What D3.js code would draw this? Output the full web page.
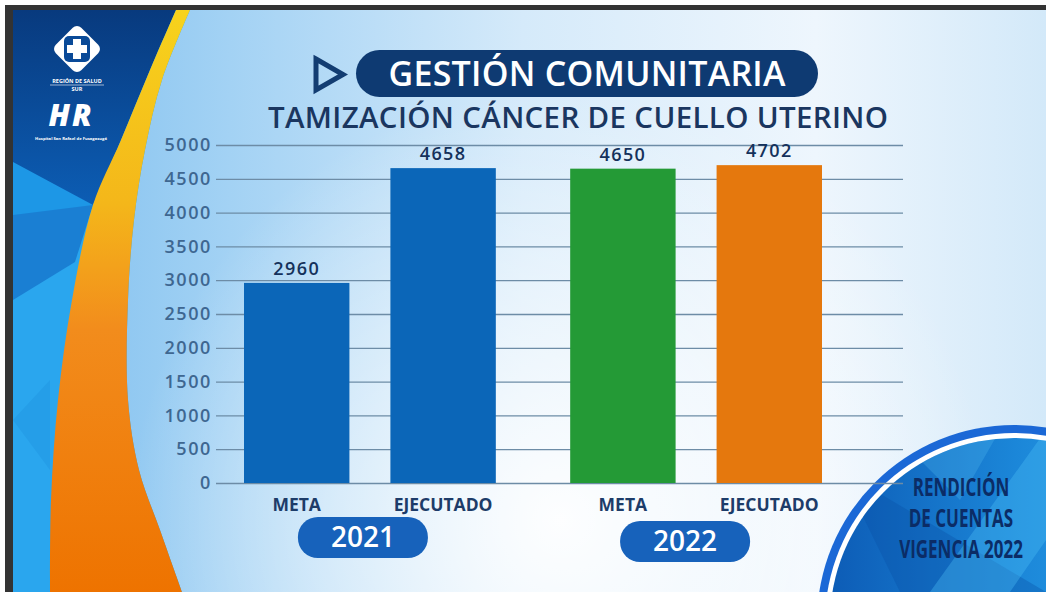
<!DOCTYPE html>
<html>
<head>
<meta charset="utf-8">
<script src="https://cdn.jsdelivr.net/npm/d3@7"></script>
<style>
  body { margin: 0; background: #fff; }
  svg { display: block; }
  text { font-family: "Open Sans", "DejaVu Sans", sans-serif; }
</style>
</head>
<body>
<div id="vis"></div>
<script>
// ---- data ----
var years = ["2021", "2022"];
var kinds = ["META", "EJECUTADO"];
var values2021 = [2960, 4658];
var values2022 = [4650, 4702];
var yTicks = [0, 500, 1000, 1500, 2000, 2500, 3000, 3500, 4000, 4500, 5000];
var titleText = "GESTIÓN COMUNITARIA";
var subtitleText = "TAMIZACIÓN CÁNCER DE CUELLO UTERINO";
var badgeLines = ["RENDICIÓN", "DE CUENTAS", "VIGENCIA 2022"];

// colours per year/kind (style only)
var barFill = {
  "2021": {META: "#0b66b8", EJECUTADO: "#0b66b8"},
  "2022": {META: "#249a36", EJECUTADO: "#e5780d"}
};

var rows = [];
years.forEach(function(yr, i) {
  var vals = i == 0 ? values2021 : values2022;
  kinds.forEach(function(k, j) { rows.push({year: yr, kind: k, value: vals[j]}); });
});

var W = 1046, H = 592;
var svg = d3.select("#vis").append("svg").attr("width", W).attr("height", H);
var defs = svg.append("defs");

function linGrad(id, x1, y1, x2, y2, stops) {
  var g = defs.append("linearGradient").attr("id", id)
    .attr("x1", x1).attr("y1", y1).attr("x2", x2).attr("y2", y2);
  stops.forEach(function(s) {
    g.append("stop").attr("offset", s[0]).attr("stop-color", s[1]);
  });
  return g;
}

linGrad("bgH", 0, 0, 1, 0, [[0, "#7bbdee"], [0.22, "#a3d2f4"], [0.5, "#d5eafa"], [0.78, "#eef6fd"], [1, "#d3e9f9"]]);
var rg = defs.append("radialGradient").attr("id", "glow")
  .attr("gradientUnits", "userSpaceOnUse").attr("cx", 560).attr("cy", 520).attr("r", 430);
rg.append("stop").attr("offset", 0).attr("stop-color", "#ffffff").attr("stop-opacity", 0.95);
rg.append("stop").attr("offset", 0.6).attr("stop-color", "#ffffff").attr("stop-opacity", 0.4);
rg.append("stop").attr("offset", 1).attr("stop-color", "#ffffff").attr("stop-opacity", 0);
linGrad("crescent", 0, 0, 0, 1, [[0, "#f7d31c"], [0.33, "#f4b71a"], [0.55, "#f28c1c"], [1, "#ee7300"]]);
linGrad("darkPanel", 0, 0, 0, 1, [[0, "#083a7e"], [1, "#0c5db4"]]);
linGrad("badge", 0, 0, 1, 0, [[0, "#0d5cb6"], [0.5, "#1b86d8"], [1, "#2fa9ee"]]);

// ---- background ----
svg.append("rect").attr("width", W).attr("height", H).attr("fill", "url(#bgH)");
svg.append("rect").attr("width", W).attr("height", H).attr("fill", "url(#glow)");

// ---- left decorative panel ----
var curve = d3.line().curve(d3.curveCatmullRom);
var leftEdge = [[176, 10], [150, 70], [121, 140], [93, 205], [72, 300], [58, 400], [51, 500], [50, 592]];
var rightEdge = [[182, 592], [160, 530], [139, 470], [128, 400], [128, 300], [134, 220], [145, 150], [162, 80], [190, 10]];

svg.append("path")
  .attr("d", "M13,10 L190,10 " + curve(rightEdge.slice().reverse()).replace("M", "L") + " L182,592 L13,592 Z")
  .attr("fill", "#2aa6ee");
svg.append("path").attr("d", "M13,205 L93,205 L75,262 L13,300 Z").attr("fill", "#1a7fd3");
svg.append("path").attr("d", "M13,160 L93,205 L13,215 Z").attr("fill", "#1d97e6");
svg.append("path")
  .attr("d", "M13,10 L176,10 " + curve(leftEdge.slice(0, 4)).replace("M", "L") + " L13,162 Z")
  .attr("fill", "url(#darkPanel)");
svg.append("path").attr("d", "M13,420 L50,380 L50,470 Z").attr("fill", "#1f95e2").attr("opacity", 0.5);
svg.append("path")
  .attr("d", curve(leftEdge) + curve(rightEdge).replace("M", "L") + " Z")
  .attr("fill", "url(#crescent)");

// logos (simplified)
var logo = svg.append("g").attr("transform", "translate(77,49)");
logo.append("rect").attr("x", -18).attr("y", -18).attr("width", 36).attr("height", 36).attr("rx", 6)
  .attr("transform", "rotate(45)").attr("fill", "#ffffff");
logo.append("rect").attr("x", -13).attr("y", -13).attr("width", 26).attr("height", 26).attr("rx", 5).attr("fill", "#0a4a98");
logo.append("path").attr("d", "M-4,-10 H4 V-4 H10 V4 H4 V10 H-4 V4 H-10 V-4 H-4 Z").attr("fill", "#ffffff");
svg.append("text").attr("x", 77).attr("y", 83).attr("text-anchor", "middle").attr("fill", "#fff")
  .attr("font-size", 5.5).attr("font-weight", 700).text("REGIÓN DE SALUD");
svg.append("line").attr("x1", 50).attr("x2", 104).attr("y1", 85).attr("y2", 85).attr("stroke", "#fff").attr("stroke-width", 0.6);
svg.append("text").attr("x", 77).attr("y", 91).attr("text-anchor", "middle").attr("fill", "#fff")
  .attr("font-size", 5.5).attr("font-weight", 700).text("SUR");
svg.append("text").attr("x", 71).attr("y", 126).attr("text-anchor", "middle").attr("fill", "#fff")
  .attr("font-size", 30).attr("font-weight", 800).attr("font-style", "italic").attr("letter-spacing", 2).text("HR");
svg.append("text").attr("x", 71).attr("y", 140).attr("text-anchor", "middle").attr("fill", "#fff")
  .attr("font-size", 4.2).attr("font-weight", 700).text("Hospital San Rafael de Fusagasugá");

// ---- bottom right badge ----
var bc = [1014, 622];
var badge = svg.append("g");
badge.append("circle").attr("cx", bc[0]).attr("cy", bc[1]).attr("r", 197).attr("fill", "#1b68d6");
badge.append("circle").attr("cx", bc[0]).attr("cy", bc[1]).attr("r", 189).attr("fill", "#ffffff");
badge.append("circle").attr("cx", bc[0]).attr("cy", bc[1]).attr("r", 184).attr("fill", "url(#badge)");
var badgeClip = defs.append("clipPath").attr("id", "badgeClip");
badgeClip.append("circle").attr("cx", bc[0]).attr("cy", bc[1]).attr("r", 184);
var facets = badge.append("g").attr("clip-path", "url(#badgeClip)");
facets.append("path").attr("d", "M840,470 L1046,592 L900,592 Z").attr("fill", "#0a4fa6").attr("opacity", 0.35);
facets.append("path").attr("d", "M1046,430 L930,592 L1010,592 L1046,540 Z").attr("fill", "#4cc0f5").attr("opacity", 0.35);
facets.append("path").attr("d", "M900,440 L1000,430 L960,500 Z").attr("fill", "#5cc4f5").attr("opacity", 0.25);
badge.selectAll("text.badge")
  .data(badgeLines)
  .enter().append("text")
  .attr("class", "badge")
  .attr("transform", function(d, i) { return "translate(961," + (496 + i * 31) + ") scale(0.68,1)"; })
  .attr("text-anchor", "middle")
  .attr("font-family", "Roboto, 'Open Sans', sans-serif")
  .attr("font-size", 25).attr("font-weight", 700)
  .attr("fill", "#0b2c66")
  .text(function(d) { return d; });

// ---- frame ----
svg.append("rect").attr("x", 5).attr("y", 5).attr("width", 8).attr("height", H).attr("fill", "#333333");
svg.append("rect").attr("x", 5).attr("y", 5).attr("width", W).attr("height", 5).attr("fill", "#333333");
svg.append("rect").attr("width", 5).attr("height", H).attr("fill", "#ffffff");
svg.append("rect").attr("width", W).attr("height", 5).attr("fill", "#ffffff");

// ---- titles ----
svg.append("path").attr("d", "M316,59 L343,74.5 L316,90 Z")
  .attr("fill", "none").attr("stroke", "#133d72").attr("stroke-width", 5).attr("stroke-linejoin", "miter");
svg.append("rect").attr("x", 356).attr("y", 50).attr("width", 462).attr("height", 47).attr("rx", 23.5).attr("fill", "#0e3a72");
svg.append("text").attr("x", 587).attr("y", 86).attr("text-anchor", "middle")
  .attr("fill", "#ffffff").attr("font-size", 34).attr("font-weight", 600)
  .attr("textLength", 397).attr("lengthAdjust", "spacing").text(titleText);
svg.append("text").attr("x", 578).attr("y", 128).attr("text-anchor", "middle")
  .attr("fill", "#1a3660").attr("font-size", 29.5).attr("font-weight", 600)
  .attr("textLength", 620).attr("lengthAdjust", "spacing").text(subtitleText);

// ---- chart ----
var plotLeft = 216, plotRight = 903;
var y = d3.scaleLinear().domain([0, 5000]).range([483, 145]);
var x0 = d3.scaleBand().domain(years).range([244, 822]).paddingInner(0.228);
var x1 = d3.scaleBand().domain(kinds).range([0, x0.bandwidth()]).paddingInner(0.28);

var yAxis = d3.axisLeft(y).tickValues(yTicks).tickFormat(d3.format("d"))
  .tickSize(-(plotRight - plotLeft)).tickPadding(4);
var gy = svg.append("g").attr("transform", "translate(" + plotLeft + ",0)").call(yAxis);
gy.select(".domain").remove();
gy.selectAll(".tick line").attr("stroke", "#6d8ca6").attr("stroke-width", 1.3);
gy.selectAll(".tick text")
  .attr("fill", "#3e6791").attr("font-size", 18).attr("font-weight", 600)
  .attr("font-family", "'Open Sans', sans-serif").attr("letter-spacing", 1.6);

var bars = svg.selectAll("g.bar")
  .data(rows)
  .enter().append("g")
  .attr("class", "bar")
  .attr("transform", function(d) { return "translate(" + (x0(d.year) + x1(d.kind)) + ",0)"; });

bars.append("rect")
  .attr("x", 0)
  .attr("y", function(d) { return y(d.value); })
  .attr("width", x1.bandwidth())
  .attr("height", function(d) { return y(0) - y(d.value); })
  .attr("fill", function(d) { return barFill[d.year][d.kind]; });

bars.append("text")
  .attr("x", x1.bandwidth() / 2)
  .attr("y", function(d) { return y(d.value) - 8; })
  .attr("text-anchor", "middle")
  .attr("fill", "#14315b").attr("font-size", 18).attr("font-weight", 600).attr("letter-spacing", 1.4)
  .text(function(d) { return d.value; });

bars.append("text")
  .attr("x", x1.bandwidth() / 2)
  .attr("y", 511)
  .attr("text-anchor", "middle")
  .attr("fill", "#1d3c69").attr("font-size", 17.5).attr("font-weight", 700)
  .text(function(d) { return d.kind; });

// year pills
var pills = svg.selectAll("g.year")
  .data(years)
  .enter().append("g")
  .attr("class", "year")
  .attr("transform", function(d, i) { return "translate(" + (x0(d) + x0.bandwidth() / 2 - 7 - i * 4) + "," + (537 + i * 4) + ")"; });
pills.append("rect").attr("x", -65).attr("y", -20).attr("width", 130).attr("height", 41).attr("rx", 20).attr("fill", "#1762bb");
pills.append("text").attr("y", 10).attr("text-anchor", "middle").attr("fill", "#ffffff")
  .attr("font-size", 28).attr("font-weight", 600).text(function(d) { return d; });
</script>
</body>
</html>
